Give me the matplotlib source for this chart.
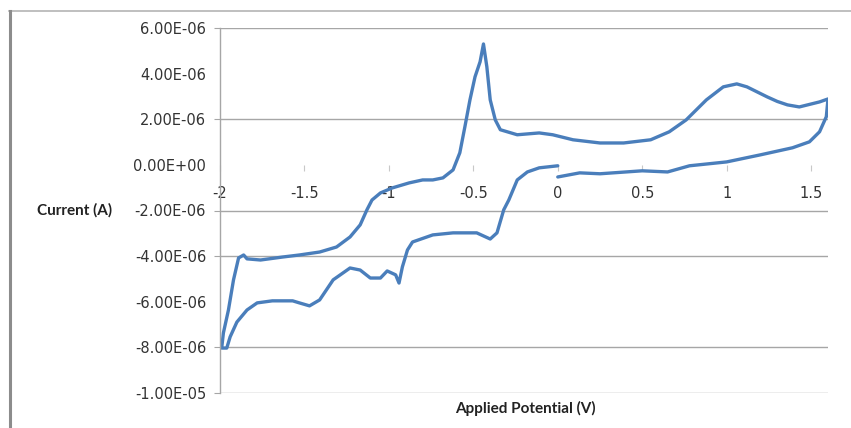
import matplotlib
matplotlib.use("Agg")
import matplotlib.pyplot as plt
from matplotlib.lines import Line2D
from matplotlib.ticker import FuncFormatter

# Applied potential (V) and current (microamps), read along the CV loop
potential = [0.00, 0.13, 0.25, 0.50, 0.65, 0.78, 1.00, 1.20, 1.39, 1.49, 1.55, 1.59, 1.60,
             1.55, 1.43, 1.36, 1.30, 1.24, 1.12, 1.06, 0.98, 0.88, 0.76, 0.66, 0.55, 0.39, 0.25,
             0.09, -0.03, -0.11, -0.24, -0.34, -0.37, -0.40, -0.42, -0.44, -0.46, -0.49,
             -0.52, -0.55, -0.58, -0.62, -0.68, -0.74, -0.80, -0.88, -0.98, -1.05, -1.10,
             -1.13, -1.17, -1.23, -1.31, -1.41, -1.53, -1.63, -1.76, -1.84, -1.86, -1.89,
             -1.92, -1.95, -1.98, -1.99,
             -1.96, -1.94, -1.90, -1.84, -1.78, -1.69, -1.57, -1.53, -1.47, -1.41, -1.33,
             -1.23, -1.17, -1.11, -1.05, -1.01, -0.96, -0.94, -0.92, -0.89, -0.86, -0.74,
             -0.62, -0.48, -0.40, -0.36, -0.32, -0.29, -0.24, -0.18, -0.11, 0.00]
current_uA = [-0.53, -0.35, -0.39, -0.26, -0.31, -0.04, 0.13, 0.44, 0.75, 1.01, 1.45, 2.11, 2.89,
              2.76, 2.54, 2.63, 2.78, 2.98, 3.42, 3.55, 3.42, 2.85, 1.97, 1.45, 1.10, 0.96, 0.96,
              1.10, 1.32, 1.40, 1.32, 1.54, 1.97, 2.85, 4.30, 5.30, 4.52, 3.86,
              2.85, 1.67, 0.53, -0.22, -0.57, -0.66, -0.66, -0.79, -1.01, -1.23, -1.54,
              -1.97, -2.63, -3.16, -3.60, -3.82, -3.95, -4.04, -4.17, -4.12, -3.95, -4.08,
              -5.04, -6.36, -7.37, -8.03,
              -8.03, -7.54, -6.89, -6.36, -6.05, -5.96, -5.96, -6.05, -6.18, -5.92, -5.04,
              -4.52, -4.61, -4.96, -4.96, -4.65, -4.82, -5.18, -4.47, -3.73, -3.38, -3.07,
              -2.98, -2.98, -3.25, -2.98, -1.97, -1.54, -0.66, -0.31, -0.13, -0.04]

x_ticks = [-2, -1.5, -1, -0.5, 0, 0.5, 1, 1.5]
y_ticks = [-1.0e-5, -8e-6, -6e-6, -4e-6, -2e-6, 0.0, 2e-6, 4e-6, 6e-6]
hidden_grid = [-6e-6, 0.0, 4e-6]

plt.rcParams['font.family'] = ['DejaVu Sans']

fig = plt.figure(figsize=(8.51, 4.28), dpi=100)
ax = fig.add_axes([220/851, 1-393/428, 608/851, 365/428])

current = [c * 1e-6 for c in current_uA]
ax.plot(potential, current, color='#4a7ebb', lw=2.4, solid_joinstyle='round',
        solid_capstyle='round')

ax.set_xlim(-2, 1.6)
ax.set_ylim(-1.0e-5, 6e-6)
ax.set_xticks(x_ticks)
ax.set_xticklabels([f"{t:g}" for t in x_ticks])
ax.set_yticks(y_ticks)
ax.yaxis.set_major_formatter(FuncFormatter(lambda v, p: f"{v:.2E}"))

for s in ['top', 'right']:
    ax.spines[s].set_visible(False)
ax.spines['bottom'].set_position(('data', 0))
ax.spines['bottom'].set_visible(False)
ax.spines['left'].set_color('#a6a6a6')
ax.spines['left'].set_linewidth(1.0)

ax.yaxis.grid(True, color='#a6a6a6', lw=1.0)
ax.set_axisbelow(True)
ax.tick_params(axis='y', direction='out', length=4, color='#a6a6a6', labelsize=10.5,
               labelcolor='#333333', pad=6)
ax.tick_params(axis='x', direction='out', length=4, color='#c8c8c8', labelsize=10.5,
               labelcolor='#333333', pad=11)

fig.canvas.draw()
for t, gl, tk in zip(ax.get_yticks(), ax.get_ygridlines(), ax.yaxis.get_major_ticks()):
    if any(abs(t - h) < 1e-9 for h in hidden_grid):
        gl.set_visible(False)
        tk.tick1line.set_visible(False)

fig.text(75/851, 1-210/428, "Current (A)", ha='center', va='center',
         fontsize=11, fontweight='bold', color='#222222', family=['Lato', 'DejaVu Sans'])
fig.text(525/851, 1-408/428, "Applied Potential (V)", ha='center', va='center',
         fontsize=11, fontweight='bold', color='#222222', family=['Lato', 'DejaVu Sans'])

# chart frame
fig.add_artist(Line2D([9/851, 1], [1-11/428, 1-11/428], transform=fig.transFigure,
                      color='#b4b4b4', lw=1.2))
fig.add_artist(Line2D([10/851, 10/851], [0, 1-11/428], transform=fig.transFigure,
                      color='#8c8c8c', lw=2.2))

fig.savefig("out.png", dpi=100)
